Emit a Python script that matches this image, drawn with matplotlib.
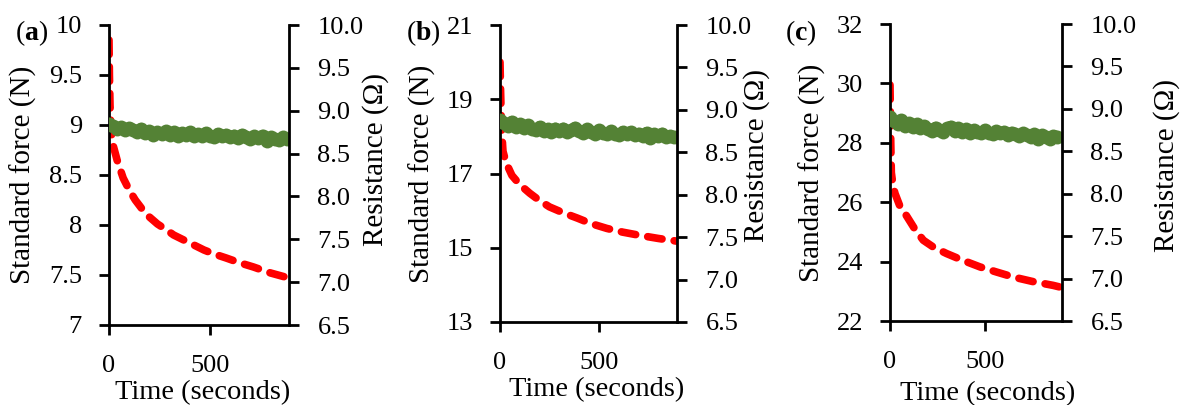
import matplotlib
matplotlib.use('Agg')
import matplotlib.pyplot as plt
from matplotlib.ticker import FuncFormatter

plt.rcParams['font.family'] = ['Liberation Serif', 'DejaVu Serif']
plt.rcParams['mathtext.fontset'] = 'custom'
plt.rcParams['mathtext.rm'] = 'Liberation Serif'
plt.rcParams['mathtext.bf'] = 'Liberation Serif:bold'

# force relaxation curves (left axis, N)
a_t = [0, 2, 5, 10, 20, 40, 70, 100, 130, 160, 200, 240, 285, 320, 370, 420, 470, 520, 580, 650, 715, 800, 890]
a_f = [9.85, 9.5, 9.2, 8.95, 8.8, 8.65, 8.47, 8.35, 8.25, 8.17, 8.08, 8.01, 7.95, 7.9, 7.85, 7.8, 7.75, 7.71, 7.67, 7.62, 7.58, 7.52, 7.47]

b_t = [0, 3, 8, 15, 30, 60, 100, 150, 200, 250, 320, 390, 460, 540, 620, 710, 800, 890]
b_f = [20.0, 19.2, 18.2, 17.6, 17.3, 16.95, 16.7, 16.47, 16.27, 16.1, 15.94, 15.8, 15.65, 15.52, 15.42, 15.33, 15.25, 15.18]

c_t = [0, 2, 4, 7, 15, 26, 50, 88, 130, 175, 230, 298, 380, 474, 560, 649, 750, 858, 890]
c_f = [29.95, 29.0, 28.0, 27.0, 26.6, 26.3, 25.9, 25.53, 25.1, 24.72, 24.48, 24.27, 24.05, 23.82, 23.65, 23.48, 23.33, 23.2, 23.15]

# resistance (right axis, ohm), sampled every 20 s
res_t = list(range(0, 900, 20))
a_res = [8.85, 8.82, 8.79, 8.81, 8.77, 8.80, 8.78, 8.75, 8.79, 8.74, 8.76, 8.72, 8.75, 8.73, 8.76,
         8.72, 8.75, 8.71, 8.74, 8.72, 8.75, 8.71, 8.73, 8.70, 8.74, 8.71, 8.69, 8.73, 8.70, 8.72,
         8.69, 8.71, 8.68, 8.72, 8.69, 8.67, 8.70, 8.68, 8.71, 8.65, 8.69, 8.67, 8.66, 8.69, 8.67]
b_res = [8.88, 8.85, 8.81, 8.86, 8.80, 8.83, 8.79, 8.82, 8.78, 8.76, 8.80, 8.75, 8.77, 8.74, 8.78,
         8.75, 8.78, 8.74, 8.76, 8.79, 8.75, 8.73, 8.77, 8.74, 8.72, 8.76, 8.73, 8.71, 8.75, 8.72,
         8.70, 8.74, 8.71, 8.74, 8.70, 8.72, 8.69, 8.73, 8.67, 8.71, 8.69, 8.72, 8.68, 8.69, 8.68]
c_res = [8.90, 8.86, 8.82, 8.87, 8.80, 8.83, 8.79, 8.82, 8.78, 8.80, 8.76, 8.74, 8.78, 8.75, 8.73,
         8.77, 8.79, 8.74, 8.77, 8.73, 8.76, 8.72, 8.75, 8.73, 8.71, 8.75, 8.72, 8.70, 8.74, 8.71,
         8.73, 8.69, 8.72, 8.70, 8.68, 8.71, 8.69, 8.67, 8.70, 8.64, 8.69, 8.67, 8.65, 8.68, 8.67]

panel_labels = ['a', 'b', 'c']
force_ticks = [[7, 7.5, 8, 8.5, 9, 9.5, 10], [13, 15, 17, 19, 21], [22, 24, 26, 28, 30, 32]]
res_ticks = [6.5, 7.0, 7.5, 8.0, 8.5, 9.0, 9.5, 10.0]
x_max = [891, 894, 905]

W, H = 1186, 405
boxes = [(109, 25, 289, 325), (500, 25, 677, 322), (890, 24, 1062, 321)]
tag_pos = [(32, 33), (423, 33), (801, 33)]
ylab_x = [(-0.478, 1.478), (-0.44, 1.452), (-0.453, 1.61)]
rlab_y = [0.553, 0.56, 0.525]
xlab_pos = [(0.52, -0.227), (0.546, -0.229), (0.57, -0.244)]

fig = plt.figure(figsize=(W / 100, H / 100), dpi=100)

data = [(a_t, a_f, a_res), (b_t, b_f, b_res), (c_t, c_f, c_res)]
for i, (t, f, r) in enumerate(data):
    l, top, rgt, bot = boxes[i]
    ax = fig.add_axes([l / W, 1 - bot / H, (rgt - l) / W, (bot - top) / H])
    ax2 = ax.twinx()

    ax.plot(t, f, color='#ff0000', lw=5.5, ls=(0, (1.9, 1.6)), dash_capstyle='round')
    ax2.plot(res_t, r, color='#548235', lw=8.5, marker='o', ms=10, mew=0,
             solid_capstyle='round', solid_joinstyle='round')

    ax.set_xlim(0, x_max[i])
    ax.set_ylim(force_ticks[i][0], force_ticks[i][-1])
    ax2.set_ylim(6.5, 10.0)
    ax.set_xticks([0, 500])
    ax.set_yticks(force_ticks[i])
    ax2.set_yticks(res_ticks)
    ax.yaxis.set_major_formatter(FuncFormatter(lambda v, p: '%g' % v))
    ax2.yaxis.set_major_formatter(FuncFormatter(lambda v, p: '%.1f' % v))

    for a in (ax, ax2):
        for s in a.spines.values():
            s.set_linewidth(2)
        a.spines['top'].set_visible(False)
    ax.spines['right'].set_visible(False)
    ax2.spines['left'].set_visible(False)
    ax2.spines['bottom'].set_visible(False)

    ax.tick_params(axis='y', direction='out', length=7.5, width=2, labelsize=19, pad=12)
    ax.tick_params(axis='x', direction='out', length=7.5, width=2, labelsize=19, pad=14)
    ax2.tick_params(axis='y', direction='out', length=7.5, width=2, labelsize=19, pad=13)

    ax.set_ylabel('Standard force (N)', fontsize=21, va='center')
    ax.yaxis.set_label_coords(ylab_x[i][0], 0.5)
    ax2.set_ylabel('Resistance (\u03a9)', fontsize=21, va='center', rotation=90)
    ax2.yaxis.set_label_coords(ylab_x[i][1], rlab_y[i])
    ax.set_xlabel('Time (seconds)', fontsize=20.5, va='center')
    ax.xaxis.set_label_coords(*xlab_pos[i])

    fig.text(tag_pos[i][0] / W, 1 - tag_pos[i][1] / H, r'($\mathbf{%s}$)' % panel_labels[i],
             fontsize=20, ha='center', va='center')

fig.savefig('out.png', dpi=100)
